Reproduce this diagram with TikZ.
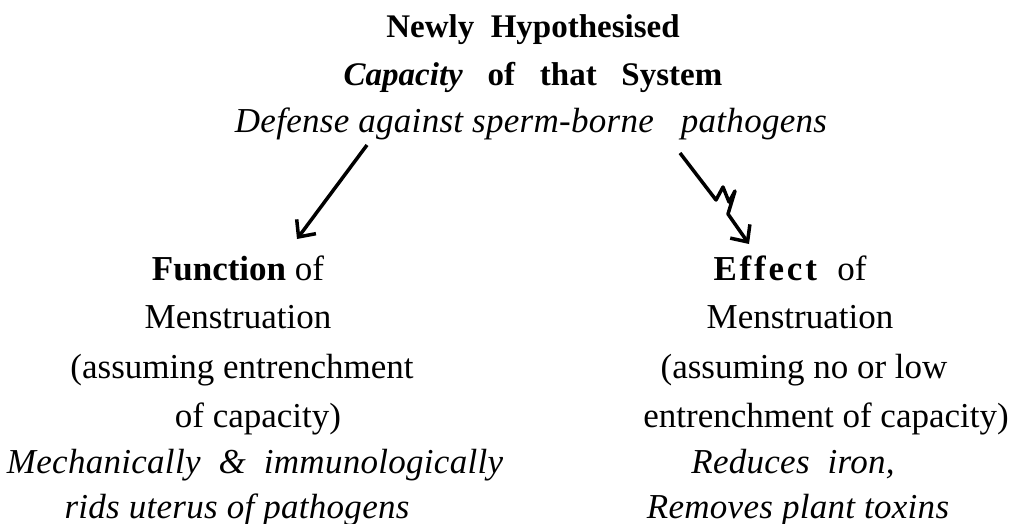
\documentclass[tikz,border=0pt]{standalone}
\usepackage{fontspec}
\setmainfont{Liberation Serif}
\newfontfamily\spacedit[LetterSpace=0.8]{Liberation Serif}
\usetikzlibrary{arrows.meta}

\tikzset{
  txt/.style={anchor=base, inner sep=0pt, font=\fontsize{35}{42}\selectfont},
  ttl/.style={txt, font=\fontsize{33}{40}\selectfont\bfseries},
  itl/.style={txt, font=\fontsize{35}{42}\selectfont\spacedit\itshape},
  arr/.style={line width=3.5pt, line join=round, -{Straight Barb[length=13pt,width=24pt]}}
}

\begin{document}
\begin{tikzpicture}[x=1pt, y=-1pt]

  \useasboundingbox (0,0) rectangle (1020,524);

  % TOP BLOCK
  \node[ttl] (newly) at (533,38) {Newly\ \ Hypothesised};
  \node[ttl] (capac) at (533,86) {\textit{Capacity}\ \ \ of\ \ \ that\ \ \ System};
  \node[itl] (defense) at (531,133) {Defense against sperm-borne\ \ \ pathogens};

  % LEFT BLOCK
  \node[txt] (funcA) at (238,280) {\textbf{Function} of};
  \node[txt] (funcB) at (238,328) {Menstruation};
  \node[txt] (funcC) at (242,378) {(assuming\ entrenchment};
  \node[txt] (funcD) at (258,427) {of capacity)};
  \node[itl] (funcE) at (255,473) {Mechanically\ \ \&\ \ immunologically};
  \node[itl] (funcF) at (237,518) {rids uterus of pathogens};

  % RIGHT BLOCK
  \node[txt] (effA) at (790,280) {\textbf{\addfontfeature{LetterSpace=8}Effect}\ \ of};
  \node[txt] (effB) at (800,328) {Menstruation};
  \node[txt] (effC) at (804,378) {(assuming no or low};
  \node[txt] (effD) at (826,427) {entrenchment of capacity)};
  \node[itl] (effE) at (793,473) {Reduces\ \ iron,};
  \node[itl] (effF) at (798,518) {Removes plant toxins};

  % ARROWS
  \coordinate (lfrom) at (367,145);
  \coordinate (lto) at (297,239);
  \draw[arr] (lfrom) -- (lto);

  \coordinate (rfrom) at (680,153);
  \coordinate (rto) at (749,244);
  \draw[arr] (rfrom) -- (716,200) -- (723,187) -- (729,202) -- (735,191)
    -- (728,214) -- (rto);

\end{tikzpicture}
\end{document}
